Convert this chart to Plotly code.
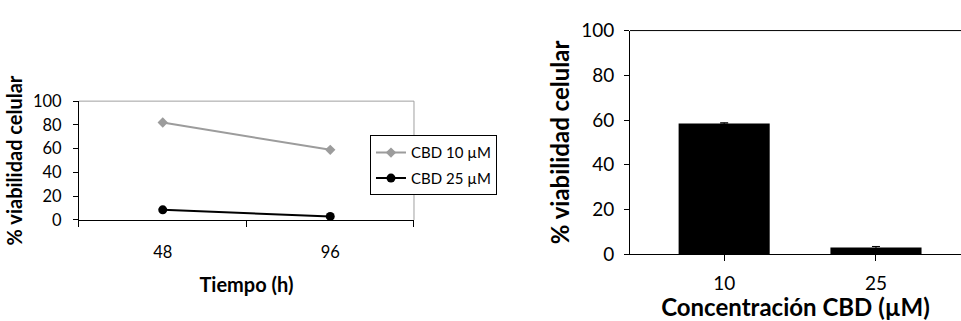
import plotly.graph_objects as go

# Time-course data (line chart)
tiempos = ["48", "96"]
cbd10_viab = [82, 59]
cbd25_viab = [8.5, 3]

# Concentration summary (bar chart)
concentraciones = ["10", "25"]
barras_viab = [58.5, 3]
barras_err = [0.3, 0.5]

FONT = "Lato, 'Open Sans', sans-serif"

fig = go.Figure()

xpos_line = list(range(len(tiempos)))
fig.add_trace(go.Scatter(
    x=xpos_line, y=cbd10_viab, mode="lines+markers", name="CBD 10 µM",
    legendgroup="a",
    line=dict(color="#9c9c9c", width=2),
    marker=dict(symbol="diamond", size=8, color="#9c9c9c"),
    xaxis="x", yaxis="y",
))
fig.add_trace(go.Scatter(
    x=xpos_line, y=cbd25_viab, mode="lines+markers", name="CBD 25 µM",
    legendgroup="b",
    line=dict(color="#000000", width=2),
    marker=dict(symbol="circle", size=9, color="#000000"),
    xaxis="x", yaxis="y",
))

xpos_bar = list(range(len(concentraciones)))
fig.add_trace(go.Bar(
    x=xpos_bar, y=barras_viab, width=0.6, showlegend=False,
    marker=dict(color="#000000", line=dict(width=0)),
    error_y=dict(type="data", array=barras_err, color="#000000", thickness=1, width=4),
    xaxis="x2", yaxis="y2",
))

fig.update_layout(
    width=961, height=321,
    margin=dict(l=0, r=0, t=0, b=0),
    paper_bgcolor="white", plot_bgcolor="white",
    font=dict(family=FONT, color="#000000"),
    showlegend=True,
    legend=dict(
        x=0.385, y=0.586, xanchor="left", yanchor="top",
        bgcolor="white", bordercolor="#000000", borderwidth=1,
        font=dict(size=15, family=FONT),
        tracegroupgap=3, itemwidth=30,
    ),
    xaxis=dict(
        domain=[0.0822, 0.4308], range=[-0.5, 1.5],
        tickmode="array", tickvals=xpos_line, ticktext=tiempos,
        ticks="", showgrid=False, zeroline=False,
        showline=True, linecolor="#000000", linewidth=1,
        tickfont=dict(size=16.5), ticklabelstandoff=17,
        minor=dict(tickmode="linear", tick0=-0.5, dtick=1, ticks="outside",
                   ticklen=6, tickcolor="#000000", showgrid=False),
        title=dict(text="<b>Tiempo (h)</b>", font=dict(size=20), standoff=17),
    ),
    yaxis=dict(
        domain=[0.3022, 0.7009], range=[0, 100],
        tickvals=[0, 20, 40, 60, 80, 100],
        ticks="outside", ticklen=5, tickcolor="#000000",
        showgrid=False, zeroline=False,
        showline=True, linecolor="#000000", linewidth=1,
        tickfont=dict(size=16.5), ticklabelstandoff=8,
        title=dict(text="<b>% viabilidad celular</b>", font=dict(size=20), standoff=4),
    ),
    xaxis2=dict(
        domain=[0.6556, 1.0], range=[-0.62, 1.56], anchor="y2",
        tickmode="array", tickvals=xpos_bar, ticktext=concentraciones,
        ticks="outside", ticklen=6, tickcolor="#000000",
        showgrid=False, zeroline=False,
        showline=True, linecolor="#000000", linewidth=1,
        tickfont=dict(size=19), ticklabelstandoff=6,
        title=dict(text="<b>Concentración CBD (µM)</b>", font=dict(size=24), standoff=4),
    ),
    yaxis2=dict(
        domain=[0.1869, 0.9377], range=[0, 100], anchor="x2",
        tickvals=[0, 20, 40, 60, 80, 100],
        ticks="outside", ticklen=5, tickcolor="#000000",
        showgrid=False, zeroline=False,
        showline=True, linecolor="#000000", linewidth=1,
        tickfont=dict(size=19), ticklabelstandoff=6,
        title=dict(text="<b>% viabilidad celular</b>", font=dict(size=24), standoff=4),
    ),
    shapes=[
        # grey frame (top and right edges) of the time-course plot area
        dict(type="line", xref="x domain", yref="y domain", x0=0, x1=1, y0=1, y1=1,
             line=dict(color="#a0a0a0", width=1), layer="below"),
        dict(type="line", xref="x domain", yref="y domain", x0=1, x1=1, y0=0, y1=1,
             line=dict(color="#a0a0a0", width=1), layer="below"),
        # top edge of the bar plot area
        dict(type="line", xref="x2 domain", yref="y2 domain", x0=0, x1=1, y0=1, y1=1,
             line=dict(color="#000000", width=1)),
    ],
)

fig.write_html("out.html")
